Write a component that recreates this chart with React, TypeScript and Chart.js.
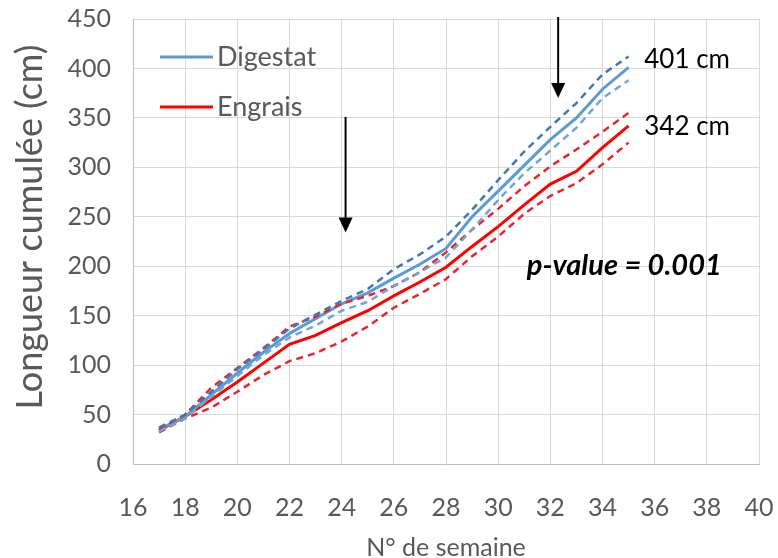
import React, { useEffect, useRef } from "react";
import { Chart, registerables } from "chart.js";

Chart.register(...registerables);

// ---- Data ----
const weeks = [17, 18, 19, 20, 21, 22, 23, 24, 25, 26, 27, 28, 29, 30, 31, 32, 33, 34, 35];
const digestatMean = [35, 48, 70, 92, 113, 132, 147, 162, 173, 188, 202, 218, 250, 276, 302, 328, 350, 379, 401];
const digestatUpper = [37, 50, 73, 96, 116, 137, 151, 165, 177, 197, 212, 230, 257, 287, 316, 341, 365, 394, 412];
const digestatLower = [33, 46, 68, 89, 110, 128, 140, 155, 164, 180, 194, 209, 237, 267, 294, 317, 340, 370, 388];
const engraisMean = [34, 48, 65, 83, 102, 121, 130, 143, 155, 170, 184, 199, 220, 240, 262, 283, 296, 320, 342];
const engraisUpper = [35, 50, 77, 97, 117, 139, 149, 162, 170, 180, 194, 214, 237, 258, 281, 301, 318, 336, 355];
const engraisLower = [32, 46, 57, 73, 90, 104, 112, 124, 139, 158, 172, 187, 210, 230, 253, 271, 284, 303, 325];

const seriesNames = ["Digestat", "Engrais"];
const xAxisTitle = "N° de semaine";
const yAxisTitle = "Longueur cumulée (cm)";
const xMin = 16;
const xMax = 40;
const xStep = 2;
const yMin = 0;
const yMax = 450;
const yStep = 50;

const arrowWeeks = [24.15, 32.3];
const arrowFrom = [351, 452];
const arrowTo = [234, 370];

const endLabels = ["401 cm", "342 cm"];
const endLabelX = [35.6, 35.6];
const endLabelY = [409, 341];

const pValueText = "p-value = 0.001";
const pValueX = 31.1;
const pValueY = 201;

const BLUE = "#5B9BD5";
const BLUE_DARK = "#4478B0";
const BLUE_LIGHT = "#6FA6DA";
const RED = "#FF0000";
const RED_DASH = "#E8262B";
const GRAY_TEXT = "#595959";
const FONT = "Lato, 'Open Sans', sans-serif";

const W = 778;
const H = 558;

const toPts = (vals: number[]) => vals.map((v, i) => ({ x: weeks[i], y: v }));

const overlayPlugin = {
  id: "overlay",
  afterDraw(chart: any) {
    const ctx = chart.ctx;
    const xs = chart.scales.x;
    const ys = chart.scales.y;
    const area = chart.chartArea;
    ctx.save();

    // legend
    const legendColors = [BLUE, RED];
    const legendY = [area.top + 38, area.top + 88];
    legendColors.forEach((c, i) => {
      ctx.strokeStyle = c;
      ctx.lineWidth = 3;
      ctx.beginPath();
      ctx.moveTo(area.left + 27, legendY[i]);
      ctx.lineTo(area.left + 80, legendY[i]);
      ctx.stroke();
      ctx.fillStyle = GRAY_TEXT;
      ctx.font = `27px ${FONT}`;
      ctx.textAlign = "left";
      ctx.textBaseline = "middle";
      ctx.fillText(seriesNames[i], area.left + 84, legendY[i]);
    });

    // arrows
    arrowWeeks.forEach((w, i) => {
      const x = xs.getPixelForValue(w);
      const y0 = ys.getPixelForValue(arrowFrom[i]);
      const y1 = ys.getPixelForValue(arrowTo[i]);
      ctx.strokeStyle = "#000";
      ctx.fillStyle = "#000";
      ctx.lineWidth = 2;
      ctx.beginPath();
      ctx.moveTo(x, y0);
      ctx.lineTo(x, y1 - 12);
      ctx.stroke();
      ctx.beginPath();
      ctx.moveTo(x - 7, y1 - 15);
      ctx.lineTo(x + 7, y1 - 15);
      ctx.lineTo(x, y1);
      ctx.closePath();
      ctx.fill();
    });

    // end labels
    ctx.fillStyle = "#000";
    ctx.font = `26px ${FONT}`;
    ctx.textAlign = "left";
    ctx.textBaseline = "middle";
    endLabels.forEach((t, i) => {
      ctx.fillText(t, xs.getPixelForValue(endLabelX[i]), ys.getPixelForValue(endLabelY[i]));
    });

    // p-value
    ctx.font = `italic bold 29px ${FONT}`;
    ctx.fillText(pValueText, xs.getPixelForValue(pValueX), ys.getPixelForValue(pValueY));

    // y title
    ctx.fillStyle = GRAY_TEXT;
    ctx.font = `36px ${FONT}`;
    ctx.translate(30, 227);
    ctx.rotate(-Math.PI / 2);
    ctx.textAlign = "center";
    ctx.textBaseline = "middle";
    ctx.fillText(yAxisTitle, 0, 0);
    ctx.restore();
  },
};

export default function App() {
  const ref = useRef<HTMLCanvasElement | null>(null);
  useEffect(() => {
    document.body.style.margin = "0";
    document.body.style.overflow = "hidden";
    if (!ref.current) return;
    const dash = [7, 5];
    const chart = new Chart(ref.current, {
      type: "line",
      data: {
        datasets: [
          { label: "Digestat +", data: toPts(digestatUpper), borderColor: BLUE_DARK, borderWidth: 2.5, borderDash: dash, pointRadius: 0, fill: false, tension: 0 },
          { label: "Digestat -", data: toPts(digestatLower), borderColor: BLUE_LIGHT, borderWidth: 2.5, borderDash: dash, pointRadius: 0, fill: false, tension: 0 },
          { label: "Engrais +", data: toPts(engraisUpper), borderColor: RED_DASH, borderWidth: 2.5, borderDash: dash, pointRadius: 0, fill: false, tension: 0 },
          { label: "Engrais -", data: toPts(engraisLower), borderColor: RED_DASH, borderWidth: 2.5, borderDash: dash, pointRadius: 0, fill: false, tension: 0 },
          { label: seriesNames[0], data: toPts(digestatMean), borderColor: BLUE, borderWidth: 3, pointRadius: 0, fill: false, tension: 0 },
          { label: seriesNames[1], data: toPts(engraisMean), borderColor: RED, borderWidth: 3, pointRadius: 0, fill: false, tension: 0 },
        ],
      },
      options: {
        animation: false,
        responsive: false,
        maintainAspectRatio: false,
        events: [],
        layout: { padding: { top: 19, right: 19, left: 0, bottom: 0 } },
        plugins: { legend: { display: false }, tooltip: { enabled: false } },
        scales: {
          x: {
            type: "linear",
            min: xMin,
            max: xMax,
            ticks: { stepSize: xStep, color: GRAY_TEXT, font: { family: FONT, size: 25 }, padding: 29 },
            grid: { color: "#D9D9D9", drawTicks: false },
            border: { color: "#BFBFBF" },
            title: { display: true, text: xAxisTitle, color: GRAY_TEXT, font: { family: FONT, size: 25 }, padding: { top: 4, bottom: -5 } },
            afterFit: (s: any) => {
              s.height = 94;
              s.paddingLeft = 0;
              s.paddingRight = 0;
            },
          },
          y: {
            min: yMin,
            max: yMax,
            ticks: { stepSize: yStep, color: GRAY_TEXT, font: { family: FONT, size: 25 }, padding: 22 },
            grid: { color: "#D9D9D9", drawTicks: false },
            border: { color: "#BFBFBF" },
            afterFit: (s: any) => {
              s.width = 133;
              s.paddingTop = 0;
              s.paddingBottom = 0;
            },
          },
        },
      },
      plugins: [overlayPlugin],
    });
    return () => chart.destroy();
  }, []);
  return (
    <div style={{ width: W, height: H, background: "#fff" }}>
      <canvas ref={ref} width={W} height={H} style={{ display: "block" }} />
    </div>
  );
}
